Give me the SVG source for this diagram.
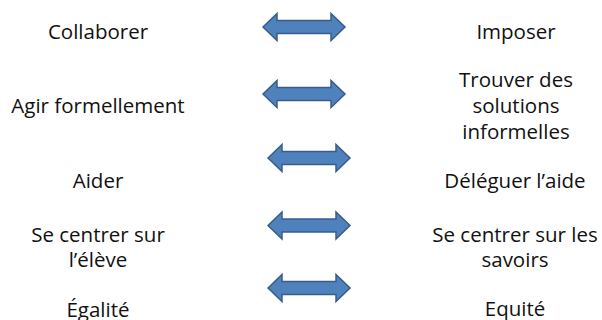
<svg xmlns="http://www.w3.org/2000/svg" width="602" height="320" viewBox="0 0 602 320">
<style>
.t{font-family:"Open Sans","Noto Sans",sans-serif;font-size:20.5px;fill:#111;text-anchor:middle}
.a{fill:#4F81BD;stroke:#385D8A;stroke-width:1.5;stroke-linejoin:miter}
</style>
<defs>
<path id="arr" d="M0,0 L14,-13.5 L14,-6.5 L68,-6.5 L68,-13.5 L82,0 L68,13.5 L68,6.5 L14,6.5 L14,13.5 Z"/>
</defs>
<rect width="602" height="320" fill="#fff"/>
<g id="connectors">
<use href="#arr" class="a" x="263" y="27"/>
<use href="#arr" class="a" x="263" y="94"/>
<use href="#arr" class="a" x="268" y="158"/>
<use href="#arr" class="a" x="268" y="225.5"/>
<use href="#arr" class="a" x="268" y="288"/>
</g>
<g id="left1"><text class="t" x="98" y="39">Collaborer</text></g>
<g id="left2"><text class="t" x="98" y="113">Agir formellement</text></g>
<g id="left3"><text class="t" x="98" y="188">Aider</text></g>
<g id="left4"><text class="t" x="98" y="242">Se centrer sur</text><text class="t" x="98" y="267">l’élève</text></g>
<g id="left5"><text class="t" x="98" y="317">Égalité</text></g>
<g id="right1"><text class="t" x="516" y="39">Imposer</text></g>
<g id="right2"><text class="t" x="516" y="87">Trouver des</text><text class="t" x="516" y="113">solutions</text><text class="t" x="516" y="139">informelles</text></g>
<g id="right3"><text class="t" x="515" y="188">Déléguer l’aide</text></g>
<g id="right4"><text class="t" x="515" y="242">Se centrer sur les</text><text class="t" x="515" y="267">savoirs</text></g>
<g id="right5"><text class="t" x="515" y="316">Equité</text></g>
</svg>
